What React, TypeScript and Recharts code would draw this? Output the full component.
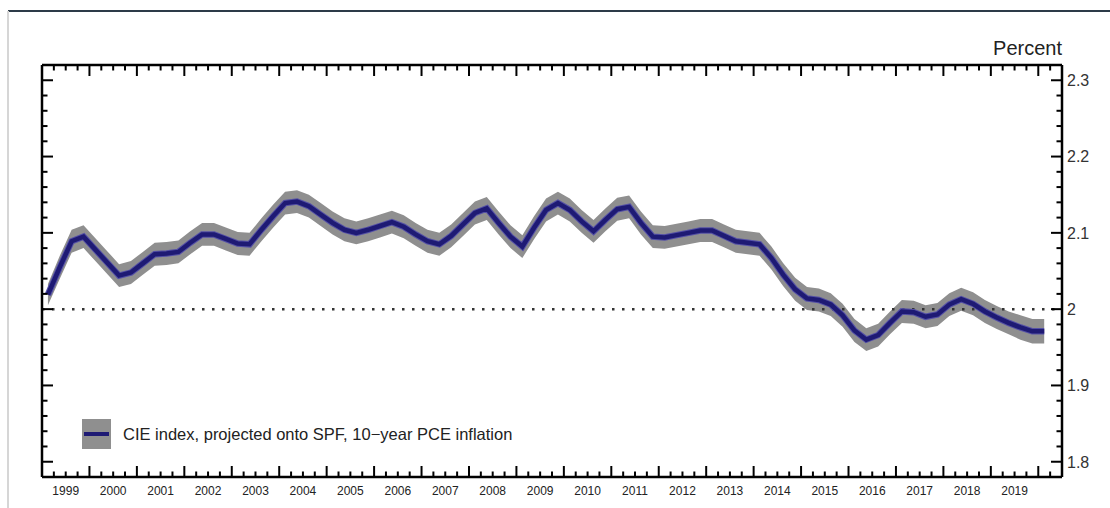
import { ComposedChart, Area, Line, XAxis, YAxis, ReferenceLine, Legend } from 'recharts';

// Quarterly CIE index, 1999Q1 .. 2020Q1
const startYear = 1999;
const cieIndex = [
  2.019, 2.055, 2.089, 2.095, 2.078, 2.061, 2.044, 2.048, 2.06, 2.072,
  2.073, 2.075, 2.087, 2.098, 2.098, 2.092, 2.086, 2.085, 2.104, 2.122,
  2.139, 2.141, 2.135, 2.124, 2.113, 2.104, 2.1, 2.104, 2.109, 2.114,
  2.108, 2.098, 2.089, 2.085, 2.096, 2.111, 2.126, 2.132, 2.113, 2.095,
  2.082, 2.107, 2.13, 2.139, 2.13, 2.115, 2.102, 2.117, 2.131, 2.134,
  2.113, 2.095, 2.094, 2.097, 2.1, 2.103, 2.103, 2.096, 2.089, 2.087,
  2.085, 2.067, 2.045, 2.026, 2.014, 2.012, 2.006, 1.992, 1.972, 1.96,
  1.966, 1.982, 1.997, 1.996, 1.99, 1.993, 2.006, 2.013, 2.007, 1.997,
  1.989, 1.982, 1.976, 1.971, 1.971,
];
// half width of the uncertainty band around each quarter
const bandHalfWidth = [
  0.014, 0.015, 0.015, 0.015, 0.015, 0.015, 0.015, 0.015, 0.015, 0.015,
  0.015, 0.015, 0.015, 0.015, 0.015, 0.015, 0.015, 0.015, 0.015, 0.015,
  0.015, 0.015, 0.015, 0.015, 0.015, 0.015, 0.015, 0.015, 0.015, 0.015,
  0.015, 0.015, 0.015, 0.015, 0.015, 0.015, 0.015, 0.015, 0.015, 0.015,
  0.015, 0.015, 0.015, 0.015, 0.015, 0.015, 0.015, 0.015, 0.015, 0.015,
  0.015, 0.015, 0.015, 0.015, 0.015, 0.015, 0.015, 0.015, 0.015, 0.015,
  0.015, 0.015, 0.015, 0.015, 0.015, 0.015, 0.015, 0.015, 0.015, 0.015,
  0.015, 0.015, 0.015, 0.015, 0.015, 0.015, 0.015, 0.015, 0.015, 0.015,
  0.015, 0.015, 0.016, 0.016, 0.016,
];
const yearLabels = [
  1999, 2000, 2001, 2002, 2003, 2004, 2005, 2006, 2007, 2008, 2009,
  2010, 2011, 2012, 2013, 2014, 2015, 2016, 2017, 2018, 2019,
];
const yMajorTicks = [1.8, 1.9, 2, 2.1, 2.2, 2.3];
const yMajorLabels = ['1.8', '1.9', '2', '2.1', '2.2', '2.3'];

const X_DOMAIN: [number, number] = [1999, 2020.5];
const Y_DOMAIN: [number, number] = [1.78, 2.32];

const PLOT = { left: 42, right: 1062, top: 65, bottom: 477 };
const FONT = '"Liberation Sans", Arial, Helvetica, sans-serif';
const NAVY = '#1e1a74';
const BAND = '#8f8f8f';

const data = cieIndex.map((v, i) => ({
  t: startYear + 0.125 + i * 0.25,
  cie: v,
  band: [v - bandHalfWidth[i], v + bandHalfWidth[i]],
}));

// quarter ticks along the x axis (borders excluded)
const xTicks: number[] = [];
for (let q = 1; q < (X_DOMAIN[1] - X_DOMAIN[0]) * 4; q++) xTicks.push(X_DOMAIN[0] + q * 0.25);

// minor y ticks every 0.02
const yTicks: number[] = [];
for (let k = 1; k < 27; k++) yTicks.push(Math.round((Y_DOMAIN[0] + k * 0.02) * 100) / 100);

const isMajorY = (v: number) => yMajorTicks.some((m) => Math.abs(m - v) < 1e-6);
const isWholeYear = (v: number) => Math.abs(v - Math.round(v)) < 1e-6;

const BottomTick = (props: any) => {
  const { x, payload } = props;
  const v = payload.value;
  const len = isWholeYear(v) ? 11 : 5.5;
  const mid = Math.abs(v - Math.floor(v) - 0.5) < 1e-6;
  const year = Math.floor(v);
  return (
    <g>
      <line x1={x} x2={x} y1={PLOT.bottom} y2={PLOT.bottom - len} stroke="#000" strokeWidth={2} />
      {mid && yearLabels.includes(year) && (
        <text x={x} y={PLOT.bottom + 18} textAnchor="middle" fontFamily={FONT} fontSize={12} fill="#222">
          {year}
        </text>
      )}
    </g>
  );
};

const TopTick = (props: any) => {
  const { x, payload } = props;
  const len = isWholeYear(payload.value) ? 11 : 5.5;
  return <line x1={x} x2={x} y1={PLOT.top} y2={PLOT.top + len} stroke="#000" strokeWidth={2} />;
};

const LeftTick = (props: any) => {
  const { y, payload } = props;
  const len = isMajorY(payload.value) ? 11 : 5.5;
  return <line x1={PLOT.left} x2={PLOT.left + len} y1={y} y2={y} stroke="#000" strokeWidth={2} />;
};

const RightTick = (props: any) => {
  const { y, payload } = props;
  const v = payload.value;
  const idx = yMajorTicks.findIndex((m) => Math.abs(m - v) < 1e-6);
  const len = idx >= 0 ? 11 : 5.5;
  return (
    <g>
      <line x1={PLOT.right} x2={PLOT.right - len} y1={y} y2={y} stroke="#000" strokeWidth={2} />
      {idx >= 0 && (
        <text x={PLOT.right + 5} y={y} dy="0.36em" textAnchor="start" fontFamily={FONT} fontSize={16} fill="#333">
          {yMajorLabels[idx]}
        </text>
      )}
    </g>
  );
};

const LegendContent = () => (
  <div style={{ display: 'flex', alignItems: 'center', fontFamily: FONT, fontSize: 16.5, color: '#222' }}>
    <svg width={29} height={30}>
      <rect x={0} y={0} width={29} height={30} fill={BAND} />
      <line x1={2} x2={27} y1={15} y2={15} stroke={NAVY} strokeWidth={4} />
    </svg>
    <span style={{ marginLeft: 12, whiteSpace: 'nowrap' }}>
      CIE index, projected onto SPF, 10−year PCE inflation
    </span>
  </div>
);

const axisLine = { stroke: '#000', strokeWidth: 2.5 };

export default function App() {
  return (
    <div style={{ position: 'absolute', left: 0, top: 0, width: 1110, height: 508, background: '#fff' }}>
      {/* page frame */}
      <div style={{ position: 'absolute', left: 8, top: 10, width: 1102, height: 1.5, background: '#2d3b48' }} />
      <div style={{ position: 'absolute', left: 7, top: 11, width: 2, height: 497, background: '#d6d6d6' }} />
      <div
        style={{
          position: 'absolute',
          right: 1110 - PLOT.right,
          top: 37,
          fontFamily: FONT,
          fontSize: 20,
          color: '#222',
        }}
      >
        Percent
      </div>
      <ComposedChart
        width={1110}
        height={508}
        data={data}
        margin={{ top: PLOT.top - 1, right: 1110 - PLOT.right - 1, bottom: 508 - PLOT.bottom - 1, left: PLOT.left - 1 }}
      >
        <XAxis
          xAxisId="bottom"
          type="number"
          dataKey="t"
          domain={X_DOMAIN}
          ticks={xTicks}
          interval={0}
          height={1}
          axisLine={axisLine}
          tickLine={false}
          tick={<BottomTick />}
          allowDataOverflow
        />
        <XAxis
          xAxisId="top"
          orientation="top"
          type="number"
          dataKey="t"
          domain={X_DOMAIN}
          ticks={xTicks}
          interval={0}
          height={1}
          axisLine={axisLine}
          tickLine={false}
          tick={<TopTick />}
          allowDataOverflow
        />
        <YAxis
          yAxisId="left"
          type="number"
          domain={Y_DOMAIN}
          ticks={yTicks}
          interval={0}
          width={1}
          axisLine={axisLine}
          tickLine={false}
          tick={<LeftTick />}
          allowDataOverflow
        />
        <YAxis
          yAxisId="right"
          orientation="right"
          type="number"
          domain={Y_DOMAIN}
          ticks={yTicks}
          interval={0}
          width={1}
          axisLine={axisLine}
          tickLine={false}
          tick={<RightTick />}
          allowDataOverflow
        />
        <ReferenceLine
          xAxisId="bottom"
          yAxisId="left"
          y={2}
          stroke="#333"
          strokeWidth={2.5}
          strokeDasharray="2.5 7.5"
        />
        <Area
          xAxisId="bottom"
          yAxisId="left"
          type="linear"
          dataKey="band"
          stroke="none"
          fill={BAND}
          fillOpacity={1}
          isAnimationActive={false}
          activeDot={false}
        />
        <Line
          xAxisId="bottom"
          yAxisId="left"
          type="linear"
          dataKey="cie"
          stroke="#5450a6"
          strokeWidth={6.5}
          dot={false}
          activeDot={false}
          legendType="none"
          isAnimationActive={false}
        />
        <Line
          xAxisId="bottom"
          yAxisId="left"
          type="linear"
          dataKey="cie"
          stroke={NAVY}
          strokeWidth={4.5}
          dot={false}
          activeDot={false}
          isAnimationActive={false}
        />
        <Legend
          layout="horizontal"
          verticalAlign="middle"
          align="center"
          content={<LegendContent />}
          wrapperStyle={{ position: 'absolute', left: 82, top: 419, width: 'auto', height: 'auto' }}
        />
      </ComposedChart>
    </div>
  );
}
